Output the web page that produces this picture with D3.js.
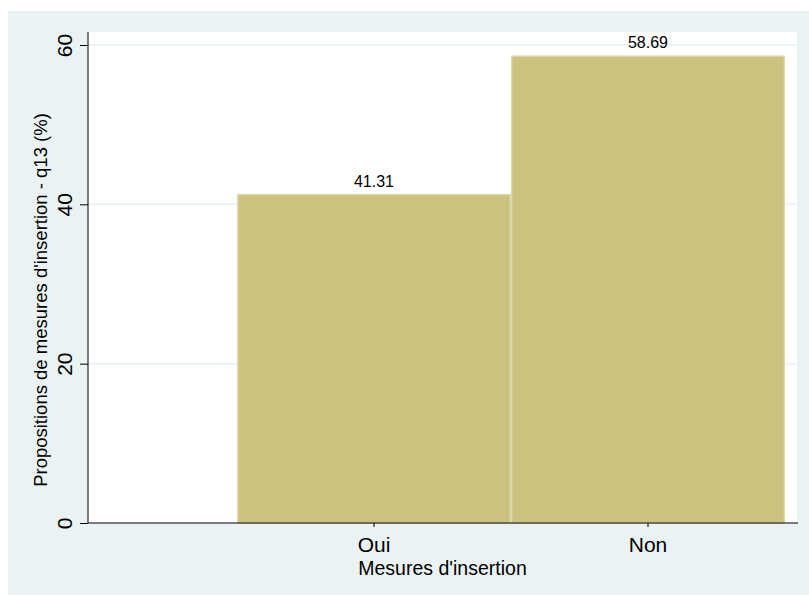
<!DOCTYPE html>
<html>
<head>
<meta charset="utf-8">
<script src="https://cdn.jsdelivr.net/npm/d3@7"></script>
<style>
  html, body { margin: 0; padding: 0; background: #ffffff; }
  svg { display: block; }
  text { font-family: "Liberation Sans", Arial, sans-serif; fill: #000; }
</style>
</head>
<body>
<svg id="chart" width="809" height="595"></svg>
<script>
// Survey answers: share of respondents (%) proposing insertion measures
const categories = ["Oui", "Non"];
const values = [41.31, 58.69];
const yTicks = [0, 20, 40, 60];
const yTitle = "Propositions de mesures d'insertion - q13 (%)";
const xTitle = "Mesures d'insertion";

const svg = d3.select("#chart");

// Graph region (light blue-grey) and white plot region
const outer = { x0: 8, y0: 11, x1: 809, y1: 595 };
const plot = { x0: 88, y0: 32, x1: 797, y1: 523 };

svg.append("rect")
  .attr("x", outer.x0).attr("y", outer.y0)
  .attr("width", outer.x1 - outer.x0).attr("height", outer.y1 - outer.y0)
  .attr("fill", "#eaf2f3");

svg.append("rect")
  .attr("x", plot.x0).attr("y", plot.y0)
  .attr("width", plot.x1 - plot.x0).attr("height", plot.y1 - plot.y0)
  .attr("fill", "#ffffff");

const y = d3.scaleLinear().domain([0, 60]).range([plot.y1, 45]);
const x = d3.scaleBand().domain(categories).range([237, 785]).padding(0);

// Horizontal gridlines
svg.append("g")
  .selectAll("line")
  .data(yTicks.filter(t => t > 0))
  .join("line")
  .attr("x1", plot.x0).attr("x2", plot.x1)
  .attr("y1", d => y(d)).attr("y2", d => y(d))
  .attr("stroke", "#e6eff1").attr("stroke-width", 1.5);

// Bars
svg.append("g")
  .selectAll("rect")
  .data(categories)
  .join("rect")
  .attr("x", d => x(d) + 0.75)
  .attr("y", (d, i) => y(values[i]) + 0.75)
  .attr("width", x.bandwidth() - 1.5)
  .attr("height", (d, i) => y(0) - y(values[i]) - 0.75)
  .attr("fill", "#cac27e")
  .attr("stroke", "#ddd8a8")
  .attr("stroke-width", 1.5);

// Value labels above bars
svg.append("g")
  .selectAll("text")
  .data(categories)
  .join("text")
  .attr("x", d => x(d) + x.bandwidth() / 2)
  .attr("y", (d, i) => y(values[i]) - 7)
  .attr("text-anchor", "middle")
  .attr("font-size", 16)
  .text((d, i) => values[i].toFixed(2));

// Y axis
const yAxis = d3.axisLeft(y).tickValues(yTicks).tickSize(8).tickPadding(5).tickSizeOuter(0);
const gy = svg.append("g").attr("transform", `translate(${plot.x0},0)`).call(yAxis);
gy.select(".domain").attr("stroke", "#000").attr("d", `M0,${plot.y0}V${plot.y1}`);
gy.selectAll(".tick line").attr("stroke", "#000");
gy.selectAll(".tick text")
  .attr("font-size", 21)
  .attr("font-family", "Liberation Sans, Arial, sans-serif")
  .attr("fill", "#000")
  .attr("x", -16).attr("y", 0).attr("dy", "0")
  .attr("transform", "rotate(-90, -16, 0)")
  .attr("text-anchor", "middle");

// X axis
const xAxis = d3.axisBottom(x).tickSize(4).tickPadding(0).tickSizeOuter(0);
const gx = svg.append("g").attr("transform", `translate(0,${plot.y1})`).call(xAxis);
gx.select(".domain").attr("stroke", "#000").attr("d", `M${plot.x0},0H${plot.x1 + 1}`);
gx.selectAll(".tick line").attr("stroke", "#000");
gx.selectAll(".tick text")
  .attr("font-size", 21)
  .attr("font-family", "Liberation Sans, Arial, sans-serif")
  .attr("fill", "#000")
  .attr("dy", 0)
  .attr("y", 29);

// Axis titles
svg.append("text")
  .attr("transform", `translate(47, 300) rotate(-90)`)
  .attr("text-anchor", "middle")
  .attr("font-size", 18.5)
  .text(yTitle);

svg.append("text")
  .attr("x", (plot.x0 + plot.x1) / 2)
  .attr("y", 575)
  .attr("text-anchor", "middle")
  .attr("font-size", 19.5)
  .text(xTitle);
</script>
</body>
</html>
